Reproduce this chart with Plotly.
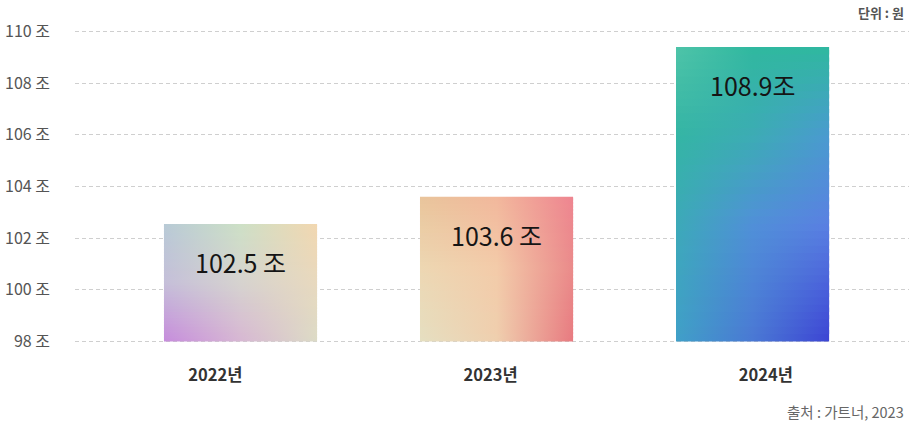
import plotly.graph_objects as go

# ---- data ----
categories = ["2022년", "2023년", "2024년"]
values = [102.55, 103.6, 109.4]          # bar heights as drawn
value_labels = ["102.5 조", "103.6 조", "108.9조"]
y_ticks = [98, 100, 102, 104, 106, 108, 110]
unit_text = "단위 : 원"
source_text = "출처 : 가트너, 2023"

# ---- style ----
Y_MIN, Y_MAX = 98, 110
BAR_W = 0.598
FONT = "Noto Sans CJK KR"

# colour grids (rows top -> bottom, each row: left, middle, right) with row positions v (1=top, 0=bottom)
grids = [
    ([1.0, 0.5, 0.0], [
        ["#b8cad6", "#cde0c6", "#f2d7b0"],
        ["#c5bfd9", "#d6d3cf", "#e8d9be"],
        ["#c68cdc", "#d7b7d3", "#dcdbc6"],
    ]),
    ([1.0, 0.5, 0.0], [
        ["#e9c59b", "#f2b89c", "#ee8590"],
        ["#edd7b3", "#f3cba9", "#ea8a8a"],
        ["#e5dfc1", "#efcfae", "#e87a80"],
    ]),
    ([1.0, 0.7, 0.4, 0.0], [
        ["#4ec4a8", "#30b89f", "#2fb89f"],
        ["#34b5a4", "#3cacb4", "#4a9ad0"],
        ["#3caab8", "#5090d8", "#5a80e2"],
        ["#40a0c8", "#4a78d4", "#3c44d4"],
    ]),
]


def h2rgb(h):
    h = h.lstrip("#")
    return [int(h[i:i + 2], 16) for i in (0, 2, 4)]


def mix(a, b, t):
    ra, rb = h2rgb(a), h2rgb(b)
    c = [round(ra[i] + (rb[i] - ra[i]) * t) for i in range(3)]
    return "rgb(%d,%d,%d)" % tuple(c)


def row_at(vs, rows, v):
    for i in range(len(vs) - 1):
        if vs[i] >= v >= vs[i + 1]:
            t = (vs[i] - v) / (vs[i] - vs[i + 1])
            return [mix(rows[i][j], rows[i + 1][j], t) for j in range(3)]
    return rows[-1]


fig = go.Figure()

# base bars (start at the axis floor)
fig.add_trace(go.Bar(
    x=list(range(len(categories))), y=[v - Y_MIN for v in values], base=Y_MIN, width=BAR_W,
    marker=dict(color=["#d2c6d2", "#f1c4a4", "#3fa6bc"], line=dict(width=0)),
    hoverinfo="skip", showlegend=False,
))

# gradient overlay strips
N = 40
for i, v in enumerate(values):
    vs, rows = grids[i]
    xl, xr = i - BAR_W / 2, i + BAR_W / 2
    h = (v - Y_MIN) / N
    for k in range(N):
        y0 = Y_MIN + k * h
        y1 = min(v, y0 + h * 1.6)
        frac = (k + 0.5) / N
        cL, cM, cR = row_at(vs, rows, frac)
        fig.add_trace(go.Scatter(
            x=[xl, xr, xr, xl, xl], y=[y0, y0, y1, y1, y0],
            mode="none", fill="toself",
            fillgradient=dict(type="horizontal",
                              colorscale=[[0, cL], [0.5, cM], [1, cR]]),
            hoverinfo="skip", showlegend=False,
        ))

# invisible trace for category label axis
fig.add_trace(go.Scatter(x=categories, y=[Y_MIN] * 3, xaxis="x2", mode="markers",
                         marker=dict(opacity=0), hoverinfo="skip", showlegend=False))

for i, (v, t) in enumerate(zip(values, value_labels)):
    fig.add_annotation(x=i, y=v, text=t, showarrow=False, yanchor="middle", yshift=-38,
                       font=dict(family=FONT, size=25, color="#151515"))

fig.add_annotation(xref="paper", yref="paper", x=1, y=1, xanchor="right", yanchor="middle",
                   xshift=-3, yshift=17, text="<b>" + unit_text + "</b>", showarrow=False,
                   font=dict(family=FONT, size=13, color="#555555"))
fig.add_annotation(xref="paper", yref="paper", x=1, y=0, xanchor="right", yanchor="middle",
                   yshift=-67, xshift=-3, text=source_text, showarrow=False,
                   font=dict(family=FONT, size=14.5, color="#666666"))

fig.update_layout(
    width=909, height=423,
    margin=dict(l=75, r=0, t=29, b=79),
    paper_bgcolor="white", plot_bgcolor="white",
    bargap=0,
    xaxis=dict(range=[-0.6465, 2.611], showticklabels=False, showgrid=False,
               zeroline=False, showline=False, fixedrange=True),
    xaxis2=dict(overlaying="x", side="bottom", type="category", range=[-0.51, 2.52],
                showgrid=False, zeroline=False, showline=False, ticks="",
                ticklabelstandoff=19,
                tickfont=dict(family=FONT, size=16.5, color="#333333", weight="bold")),
    yaxis=dict(range=[Y_MIN - 0.1, Y_MAX + 0.1], tickvals=y_ticks,
               ticktext=["%d 조" % t for t in y_ticks],
               showgrid=True, gridcolor="#cfcfcf", gridwidth=1, griddash="4px,3px",
               zeroline=False, showline=False, ticks="", ticklabelstandoff=24,
               tickfont=dict(family=FONT, size=16, color="#555555")),
)

fig.write_html("out.html", config={"displayModeBar": False})

# remove default page margin so the figure sits at the window's top-left corner
with open("out.html", encoding="utf-8") as f:
    html = f.read()
html = html.replace("<head>", "<head><style>html,body{margin:0;padding:0;overflow:hidden}</style>", 1)
with open("out.html", "w", encoding="utf-8") as f:
    f.write(html)
